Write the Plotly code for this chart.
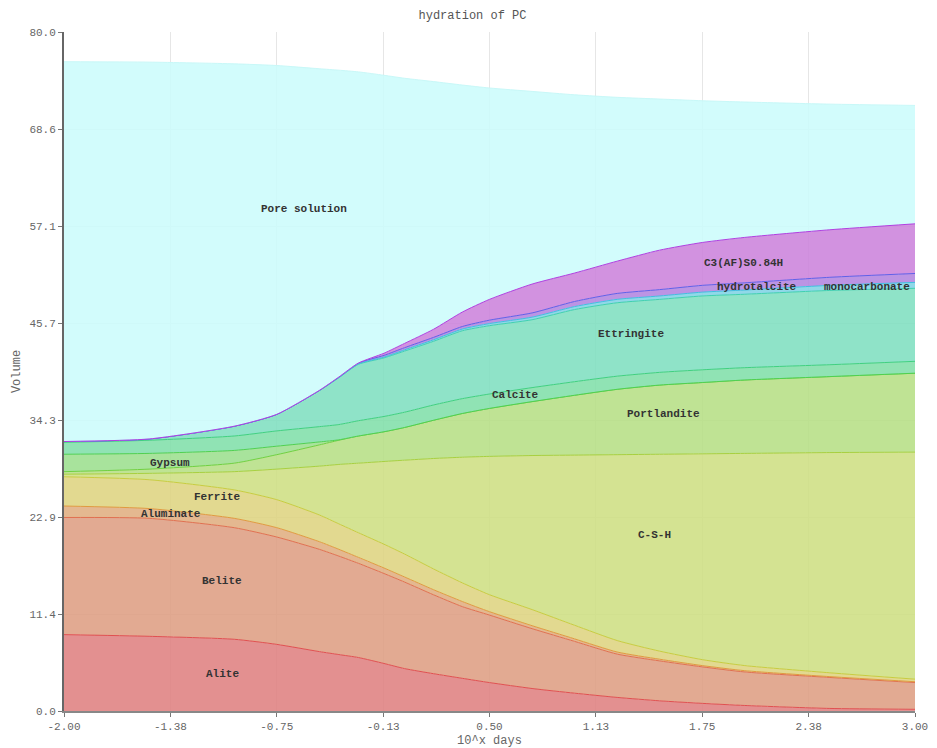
import plotly.graph_objects as go

# x axis: log10 of time in days
x_log_days = [-2.0, -1.5, -1.0, -0.75, -0.5, -0.385, -0.27, -0.12, 0.0, 0.17, 0.34, 0.5,
              0.75, 1.0, 1.25, 1.5, 1.75, 2.0, 2.5, 3.0]

# phase volumes (stacked, bottom to top)
alite = [9.0, 8.8, 8.45, 7.85, 7.0, 6.65, 6.3, 5.6, 5.0, 4.4, 3.85, 3.35,
         2.65, 2.1, 1.6, 1.2, 0.9, 0.65, 0.3, 0.2]
belite = [13.8, 13.9, 13.15, 12.65, 12.05, 11.6, 11.1, 10.6, 10.2, 9.3, 8.45, 7.95,
          7.05, 6.1, 5.1, 4.7, 4.3, 3.95, 3.65, 3.15]
aluminate = [1.35, 1.15, 1.1, 1.1, 0.9, 0.8, 0.7, 0.65, 0.6, 0.6, 0.6, 0.4,
             0.35, 0.3, 0.25, 0.2, 0.15, 0.15, 0.1, 0.1]
ferrite = [3.45, 3.4, 3.35, 3.3, 3.15, 3.0, 2.9, 2.8, 2.7, 2.45, 2.2, 2.0,
           1.9, 1.6, 1.35, 0.95, 0.7, 0.6, 0.45, 0.3]
csh = [0.3, 0.75, 2.15, 3.6, 5.75, 7.0, 8.2, 9.75, 11.05, 13.0, 14.8, 16.3,
       18.15, 20.05, 21.9, 23.2, 24.25, 25.0, 25.95, 26.75]
portlandite = [0.3, 0.5, 1.0, 1.7, 2.5, 2.85, 3.2, 3.5, 3.85, 4.5, 5.15, 5.65,
               6.35, 7.05, 7.7, 8.15, 8.4, 8.65, 8.95, 9.3]
gypsum = [2.05, 1.85, 1.5, 1.0, 0.35, 0.05, 0.0, 0.0, 0.0, 0.0, 0.0, 0.0,
          0.0, 0.0, 0.0, 0.0, 0.0, 0.0, 0.0, 0.0]
calcite = [1.4, 1.55, 1.7, 1.8, 1.8, 1.8, 1.8, 1.8, 1.8, 1.8, 1.75, 1.7,
           1.65, 1.6, 1.55, 1.5, 1.5, 1.45, 1.4, 1.4]
ettringite = [0.1, 0.15, 1.15, 1.95, 4.25, 5.52, 6.65, 6.9, 7.2, 7.5, 8.0, 8.05,
              8.0, 8.5, 8.65, 8.6, 8.7, 8.65, 8.75, 8.6]
monocarbonate = [0.0, 0.0, 0.0, 0.0, 0.0, 0.02, 0.05, 0.1, 0.15, 0.18, 0.2, 0.25,
                 0.3, 0.35, 0.4, 0.4, 0.45, 0.5, 0.6, 0.7]
hydrotalcite = [0.0, 0.0, 0.0, 0.0, 0.02, 0.06, 0.1, 0.2, 0.25, 0.28, 0.3, 0.4,
                0.5, 0.6, 0.7, 0.75, 0.8, 0.85, 0.95, 1.05]
c3afs = [0.0, 0.0, 0.0, 0.0, 0.0, 0.0, 0.0, 0.25, 0.5, 0.95, 1.7, 2.45,
         3.4, 3.35, 3.8, 4.65, 5.05, 5.35, 5.6, 5.85]
pore_solution = [44.75, 44.4, 42.7, 41.1, 37.9, 36.15, 34.3, 32.75, 31.25, 29.2, 26.75, 24.9,
                 22.7, 21.0, 19.3, 17.8, 16.7, 15.95, 14.8, 13.95]

phase_names = ["Alite", "Belite", "Aluminate", "Ferrite", "C-S-H", "Portlandite",
               "Gypsum", "Calcite", "Ettringite", "monocarbonate", "hydrotalcite",
               "C3(AF)S0.84H", "Pore solution"]
phase_values = [alite, belite, aluminate, ferrite, csh, portlandite, gypsum,
                calcite, ettringite, monocarbonate, hydrotalcite, c3afs, pore_solution]

fill_targets = ["#e39090", "#e2aa92", "#e4b890", "#e2d990", "#d4e392", "#bfe394",
                "#a8e39c", "#90e3b4", "#8ee3c8", "#90d8e8", "#bc94e4", "#d292e0",
                "#d2fcfc"]
line_colors = ["#e05050", "#e07050", "#e09a40", "#c8cc40", "#a8d040", "#70d040",
               "#50d050", "#40d080", "#40d0b0", "#40c0e0", "#6060e8", "#b040e0",
               "#c8f8f8"]

# label positions (x in log days, y in volume)
label_x = [-1.07, -1.07, -1.37, -1.10, 1.47, 1.52, -1.38, 0.65, 1.33, 2.72, 2.07, 1.99, -0.59]
label_y = [4.4, 15.3, 23.2, 25.2, 20.7, 35.0, 29.2, 37.2, 44.4, 50.0, 50.0, 52.8, 59.2]


def rgba_over_white(hex_color, a=0.88):
    h = hex_color.lstrip("#")
    t = [int(h[i:i + 2], 16) for i in (0, 2, 4)]
    c = [max(0, min(255, round((v - (1 - a) * 255) / a))) for v in t]
    return f"rgba({c[0]},{c[1]},{c[2]},{a})"


fig = go.Figure()
for name, vals, fc, lc in zip(phase_names, phase_values, fill_targets, line_colors):
    fig.add_trace(go.Scatter(
        x=x_log_days, y=vals, name=name, stackgroup="one", mode="lines",
        line=dict(color=lc, width=1, shape="spline", smoothing=0.6),
        fillcolor=rgba_over_white(fc), hoverinfo="x+y+name",
    ))

label_font = dict(family="Liberation Mono", size=11, color="#333333", weight="bold")
for name, lx, ly in zip(phase_names, label_x, label_y):
    fig.add_annotation(x=lx, y=ly, text=name, showarrow=False, font=label_font,
                       xanchor="center", yanchor="middle")

x_tickvals = [-2.0, -1.375, -0.75, -0.125, 0.5, 1.125, 1.75, 2.375, 3.0]
x_ticktext = ["-2.00", "-1.38", "-0.75", "-0.13", "0.50", "1.13", "1.75", "2.38", "3.00"]
y_tickvals = [0, 80 / 7, 160 / 7, 240 / 7, 320 / 7, 400 / 7, 480 / 7, 80]
y_ticktext = ["0.0", "11.4", "22.9", "34.3", "45.7", "57.1", "68.6", "80.0"]

axis_font = dict(family="Liberation Mono", size=11, color="#666666")

# page body has an 8px margin, so the figure is sized to end at the window edge
fig.update_layout(
    width=929, height=740,
    autosize=False,
    margin=dict(l=56, r=22, t=24, b=37, autoexpand=False),
    paper_bgcolor="white", plot_bgcolor="white",
    showlegend=False,
    title=dict(text="hydration of PC", x=0.5, xanchor="center",
               y=1 - 7 / 740, yanchor="middle", yref="container",
               font=dict(family="Liberation Mono", size=12, color="#555555")),
    xaxis=dict(range=[-2, 3], tickvals=x_tickvals, ticktext=x_ticktext, automargin=False,
               showgrid=True, gridcolor="#e6e6e6", gridwidth=1, zeroline=False,
               showline=True, linecolor="#888888", linewidth=2,
               ticks="outside", ticklen=4, tickcolor="#777777",
               tickfont=axis_font,
               title=dict(text="10^x days", standoff=3,
                          font=dict(family="Liberation Mono", size=12, color="#666666"))),
    yaxis=dict(range=[0, 80], tickvals=y_tickvals, ticktext=y_ticktext, automargin=False,
               showgrid=True, gridcolor="#e6e6e6", gridwidth=1, zeroline=False,
               showline=True, linecolor="#666666", linewidth=2,
               ticks="outside", ticklen=4, tickcolor="#777777",
               tickfont=axis_font,
               title=dict(text="Volume", standoff=6,
                          font=dict(family="Liberation Mono", size=12, color="#666666"))),
)

fig.write_html("out.html")
